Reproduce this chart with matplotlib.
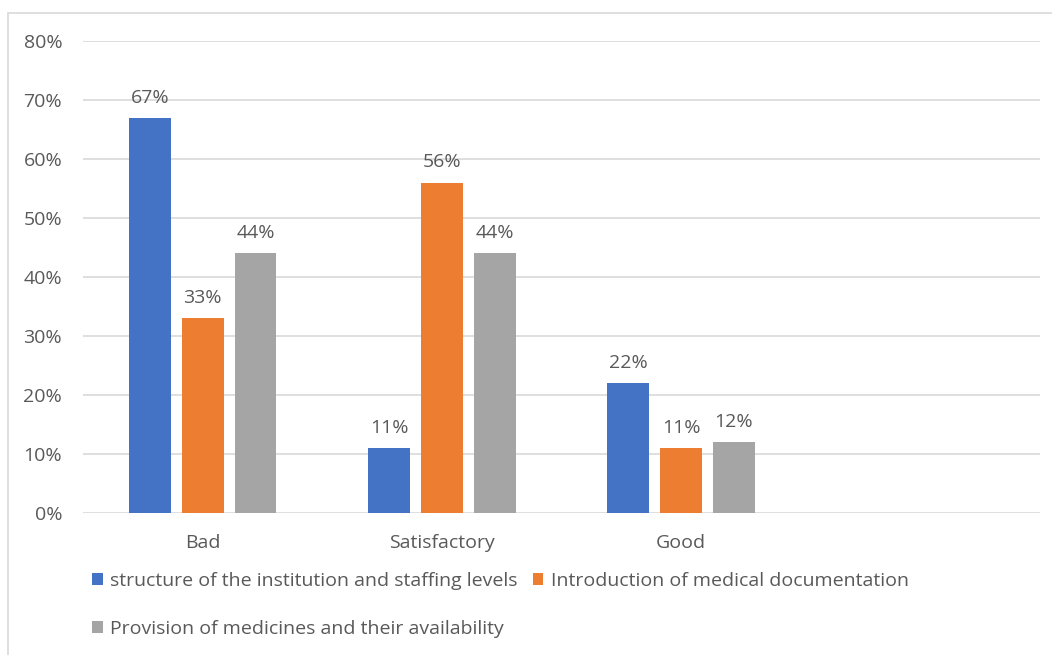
import matplotlib
matplotlib.use("Agg")
from matplotlib import pyplot as plt
from matplotlib.patches import Rectangle
import numpy as np

categories = ["Bad", "Satisfactory", "Good"]
series_names = ["structure of the institution and staffing levels",
                "Introduction of medical documentation",
                "Provision of medicines and their availability"]
structure = [67, 11, 22]
documentation = [33, 56, 11]
medicines = [44, 44, 12]
colors = ["#4472C4", "#ED7D31", "#A5A5A5"]
yticks = [0, 10, 20, 30, 40, 50, 60, 70, 80]

plt.rcParams['font.family'] = ['Open Sans', 'DejaVu Sans']
text_col = "#595959"

fig = plt.figure(figsize=(10.52, 6.55), dpi=100)
ax = fig.add_axes([83/1052, 1 - 513/655, (1040 - 83)/1052, (513 - 41)/655])

# light frame around the chart area
fig.patches.append(Rectangle((8/1052, -0.05), 1.1, 1 - 13/655 + 0.05, transform=fig.transFigure,
                             fill=False, edgecolor="#d9d9d9", linewidth=1.2))

x = np.arange(len(categories))
width = 0.175
step = 0.221
handles = []
for i, (vals, name) in enumerate(zip([structure, documentation, medicines], series_names)):
    bars = ax.bar(x + (i - 1) * step, vals, width, color=colors[i], label=name, zorder=3)
    handles.append(bars)
    for b, v in zip(bars, vals):
        ax.annotate(f"{v}%", (b.get_x() + b.get_width() / 2, v), xytext=(0, 8),
                    textcoords="offset points", ha="center", va="bottom",
                    fontsize=14, color=text_col)

ax.set_xlim(-0.5, 3.5)
ax.set_ylim(0, 80)
ax.set_xticks(x)
ax.set_xticklabels(categories, fontsize=14, color=text_col)
ax.set_yticks(yticks)
ax.set_yticklabels([f"{t}%" for t in yticks], fontsize=14, color=text_col)
ax.tick_params(length=0)
ax.tick_params(axis="y", pad=15)
ax.tick_params(axis="x", pad=15)
ax.grid(axis="y", color="#d9d9d9", linewidth=1.2, zorder=0)
for s in ax.spines.values():
    s.set_visible(False)

order = [0, 2, 1]
leg = ax.legend([handles[k] for k in order], [series_names[k] for k in order],
                ncol=2, loc="upper left", bbox_to_anchor=(0.0094, -0.125), frameon=False,
                fontsize=14, handlelength=0.55, handleheight=0.55, handletextpad=0.4,
                columnspacing=0.75, labelspacing=1.55, borderaxespad=0, borderpad=0)
for t in leg.get_texts():
    t.set_color(text_col)

fig.savefig("out.png", dpi=100)
